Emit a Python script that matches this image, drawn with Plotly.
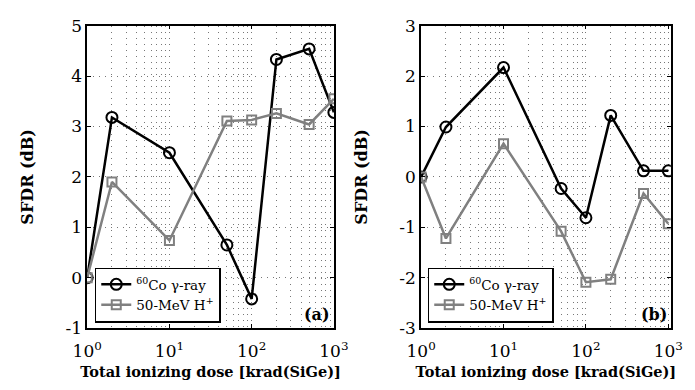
import plotly.graph_objects as go

dose = [1, 2, 10, 50, 100, 200, 500, 1000]
gamma_a = [0, 3.18, 2.48, 0.65, -0.42, 4.33, 4.54, 3.28]
proton_a = [0, 1.90, 0.74, 3.11, 3.13, 3.26, 3.04, 3.55]
gamma_b = [0, 0.99, 2.17, -0.23, -0.81, 1.22, 0.12, 0.12]
proton_b = [0, -1.22, 0.66, -1.08, -2.09, -2.03, -0.33, -0.93]

xtickvals = [1, 10, 100, 1000]
xticktext = ["10<sup>0</sup>", "10<sup>1</sup>", "10<sup>2</sup>", "10<sup>3</sup>"]
ytick_a = [-1, 0, 1, 2, 3, 4, 5]
ytick_b = [-3, -2, -1, 0, 1, 2, 3]

name_g = "<sup>60</sup>Co γ-ray"
name_p = "50-MeV H<sup>+</sup>"

FONT = "DejaVu Serif"
fig = go.Figure()

def add(xa, ya, g, p, leg):
    fig.add_trace(go.Scatter(x=dose, y=g, mode="lines+markers", name=name_g,
                             xaxis=xa, yaxis=ya, legend=leg,
                             line=dict(color="black", width=2.5),
                             marker=dict(symbol="circle-open", size=11, color="black",
                                         line=dict(width=2))))
    fig.add_trace(go.Scatter(x=dose, y=p, mode="lines+markers", name=name_p,
                             xaxis=xa, yaxis=ya, legend=leg,
                             line=dict(color="#808080", width=2.5),
                             marker=dict(symbol="square-open", size=9, color="#808080",
                                         line=dict(width=2))))

add("x", "y", gamma_a, proton_a, "legend")
add("x2", "y2", gamma_b, proton_b, "legend2")

GRID = "#777"
DASH = "1px,5px"
xcommon = dict(type="log", tickvals=xtickvals, ticktext=xticktext,
               showline=True, linecolor="black", linewidth=1.5, mirror="ticks",
               ticks="inside", ticklen=4, tickcolor="black",
               showgrid=True, gridcolor=GRID, griddash=DASH, gridwidth=1,
               minor=dict(showgrid=True, gridcolor=GRID, griddash=DASH, gridwidth=1,
                          dtick="D1", ticks=""),
               zeroline=False, ticklabeloverflow="allow", ticklabelstandoff=7,
               tickfont=dict(family=FONT, size=17, color="black"),
               title=dict(text="<b>Total ionizing dose [krad(SiGe)]</b>",
                          font=dict(family=FONT, size=14.5, color="black"), standoff=6))
ycommon = dict(showline=True, linecolor="black", linewidth=1.5, mirror="ticks",
               ticks="inside", ticklen=4, tickcolor="black",
               showgrid=True, gridcolor=GRID, griddash=DASH, gridwidth=1,
               zeroline=False, ticklabeloverflow="allow",
               tickfont=dict(family=FONT, size=17, color="black"),
               title=dict(text="<b>SFDR (dB)</b>",
                          font=dict(family=FONT, size=16, color="black"), standoff=28))

fig.update_layout(
    width=695, height=390,
    font=dict(family=FONT),
    margin=dict(l=0, r=0, t=0, b=0),
    paper_bgcolor="white", plot_bgcolor="white",
    showlegend=True,
    xaxis=dict(xcommon, domain=[67/695, 325/695], range=[-0.001, 3.001]),
    yaxis=dict(ycommon, domain=[1-327/390, 1-8/390], range=[-1.002, 5.002],
               tickvals=ytick_a, ticktext=[str(v) for v in ytick_a]),
    xaxis2=dict(xcommon, domain=[416/695, 677/695], range=[-0.001, 3.03], anchor="y2"),
    yaxis2=dict(ycommon, domain=[1-327/390, 1-8/390], range=[-3.002, 3.002], anchor="x2",
                tickvals=ytick_b, ticktext=[str(v) for v in ytick_b]),
    legend=dict(x=75/695, y=1-321/390, xref="paper", yref="paper",
                xanchor="left", yanchor="bottom",
                bgcolor="white", bordercolor="black", borderwidth=1.5,
                font=dict(family=FONT, size=13.5, color="black"),
                tracegroupgap=0, itemwidth=30),
    legend2=dict(x=423/695, y=1-321/390, xref="paper", yref="paper",
                 xanchor="left", yanchor="bottom",
                 bgcolor="white", bordercolor="black", borderwidth=1.5,
                 font=dict(family=FONT, size=13.5, color="black"),
                 tracegroupgap=0, itemwidth=30),
    annotations=[
        dict(text="<b>(a)</b>", x=323/695, y=1-325/390, xref="paper", yref="paper",
             xanchor="right", yanchor="bottom", showarrow=False,
             font=dict(family=FONT, size=16, color="black")),
        dict(text="<b>(b)</b>", x=675/695, y=1-325/390, xref="paper", yref="paper",
             xanchor="right", yanchor="bottom", showarrow=False,
             font=dict(family=FONT, size=16, color="black")),
    ],
)

fig.write_html("out.html")
